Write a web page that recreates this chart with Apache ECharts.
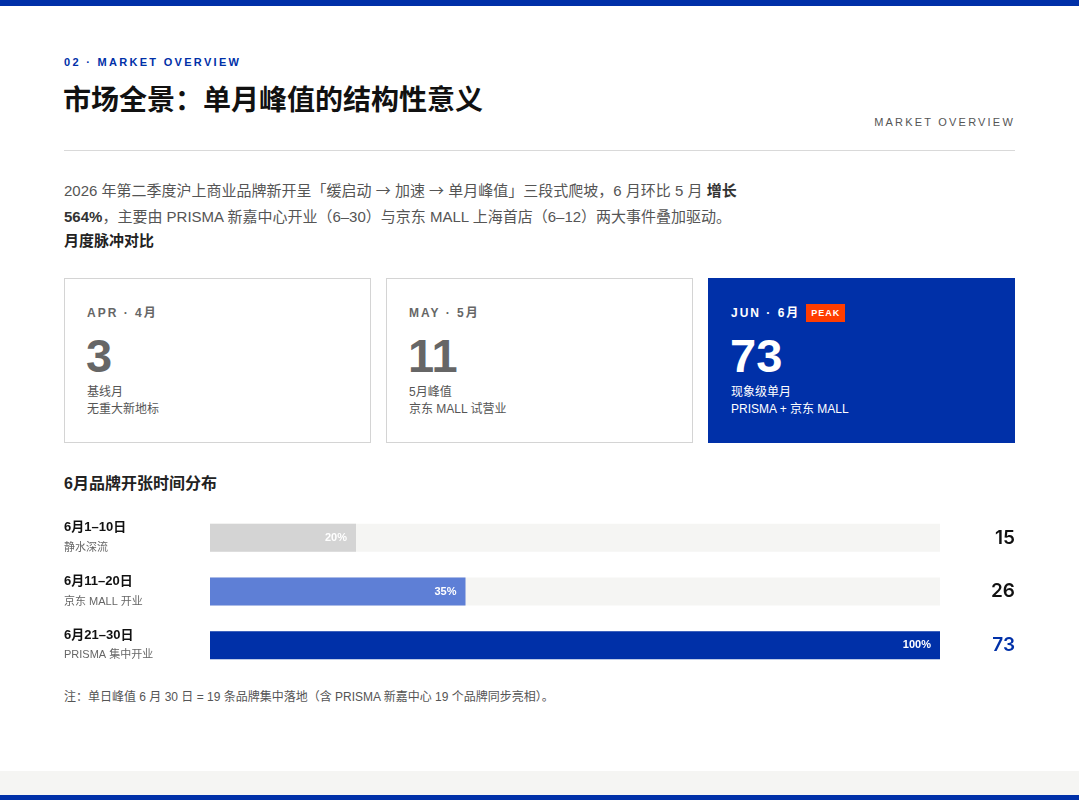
<!DOCTYPE html>
<html><head><meta charset="utf-8">
<script src="https://cdn.jsdelivr.net/npm/echarts@6/dist/echarts.min.js"></script>
<style>
*{margin:0;padding:0;box-sizing:border-box}
html,body{width:1079px;height:800px;background:#fff;overflow:hidden;font-family:"Liberation Sans","Noto Sans CJK SC",sans-serif;color:#222}
.abs{position:absolute}
#topbar{left:0;top:0;width:1079px;height:6px;background:#0030A8}
#eyebrow{left:64px;top:56px;font-size:11px;letter-spacing:2.3px;color:#0030A8;font-weight:bold}
#title{left:63px;top:78px;font-size:28px;font-weight:bold;color:#111;font-family:"Noto Sans CJK SC",sans-serif}
#sub{right:64px;top:116px;font-size:11px;letter-spacing:2.2px;color:#555}
#rule{left:64px;top:150px;width:951px;height:1px;background:#d9d9d9}
#para{left:64px;top:177px;width:700px;font-size:15px;line-height:26px;color:#555}
#para b{color:#333}
.arr{font-family:"Noto Sans CJK SC",sans-serif}
#pulse{left:64px;top:229px;font-size:15px;font-weight:bold;color:#222}
.card{position:absolute;top:278px;width:307px;height:165px;border:1px solid #d4d4d4;background:#fff;padding:0 22px}
.card .lab{position:absolute;left:22px;top:25px;font-size:12px;font-weight:bold;letter-spacing:2px;color:#666;line-height:18px;white-space:nowrap}
.card .num{position:absolute;left:21px;top:49px;font-size:47px;font-weight:bold;color:#666;line-height:56px}
.card .desc{position:absolute;left:22px;top:105px;font-size:12px;line-height:17px;color:#555}
.card.peak{background:#0030A8;border-color:#0030A8}
.card.peak .lab,.card.peak .num,.card.peak .desc{color:#fff}
.badge{display:inline-block;background:#FF3D00;color:#fff;font-size:9px;letter-spacing:1px;padding:0 5px;line-height:18px;margin-left:6px;vertical-align:top}
#dist{left:64px;top:470px;font-size:16px;font-weight:bold;color:#222}
#chart{left:0;top:500px;width:1079px;height:180px}
#note{left:64px;top:687px;font-size:12px;color:#555}
#band{left:0;top:771px;width:1079px;height:24px;background:#f5f5f3}
#botbar{left:0;top:795px;width:1079px;height:5px;background:#0030A8}
</style></head>
<body>
<div id="topbar" class="abs"></div>
<div id="eyebrow" class="abs">02 · MARKET OVERVIEW</div>
<div id="title" class="abs">市场全景：单月峰值的结构性意义</div>
<div id="sub" class="abs">MARKET OVERVIEW</div>
<div id="rule" class="abs"></div>
<div id="para" class="abs">2026 年第二季度沪上商业品牌新开呈「缓启动 <span class="arr">→</span> 加速 <span class="arr">→</span> 单月峰值」三段式爬坡，6 月环比 5 月 <b>增长 564%</b>，主要由 PRISMA 新嘉中心开业（6–30）与京东 MALL 上海首店（6–12）两大事件叠加驱动。</div>
<div id="pulse" class="abs">月度脉冲对比</div>
<div id="cards"></div>
<div id="dist" class="abs">6月品牌开张时间分布</div>
<div id="chart" class="abs"></div>
<div id="note" class="abs">注：单日峰值 6 月 30 日 = 19 条品牌集中落地（含 PRISMA 新嘉中心 19 个品牌同步亮相）。</div>
<div id="band" class="abs"></div>
<div id="botbar" class="abs"></div>
<script>
// Monthly cards
var monthLabels = ['APR · 4月', 'MAY · 5月', 'JUN · 6月'];
var monthValues = [3, 11, 73];
var monthNotes = [['基线月', '无重大新地标'], ['5月峰值', '京东 MALL 试营业'], ['现象级单月', 'PRISMA + 京东 MALL']];

// June distribution
var periods = ['6月1–10日', '6月11–20日', '6月21–30日'];
var periodNotes = ['静水深流', '京东 MALL 开业', 'PRISMA 集中开业'];
var periodCounts = [15, 26, 73];
var periodPct = [20, 35, 100];
var barColors = ['#d4d4d4', '#5e7fd6', '#0030A8'];

var cardsEl = document.getElementById('cards');
var lefts = [64, 386, 708];
monthValues.forEach(function (v, i) {
  var c = document.createElement('div');
  c.className = 'card' + (i === 2 ? ' peak' : '');
  c.style.left = lefts[i] + 'px';
  c.innerHTML = '<div class="lab">' + monthLabels[i] + (i === 2 ? '<span class="badge">PEAK</span>' : '') + '</div>' +
    '<div class="num">' + v + '</div>' +
    '<div class="desc">' + monthNotes[i].join('<br>') + '</div>';
  cardsEl.appendChild(c);
});

var chart = echarts.init(document.getElementById('chart'));
var ff = '"Liberation Sans","Noto Sans CJK SC",sans-serif';
chart.setOption({
  animation: false,
  grid: { left: 210, right: 139, top: 11, height: 161 },
  xAxis: { type: 'value', min: 0, max: 100, show: false },
  yAxis: [{
    type: 'category', inverse: true, data: periods,
    axisLine: { show: false }, axisTick: { show: false },
    axisLabel: {
      align: 'left', margin: 146,
      formatter: function (v, i) { return '{a|' + v + '}\n{b|' + periodNotes[i] + '}'; },
      rich: {
        a: { fontSize: 13, fontWeight: 'bold', color: '#111', lineHeight: 20, fontFamily: ff },
        b: { fontSize: 11, color: '#666', lineHeight: 20, fontFamily: ff }
      }
    }
  }, {
    type: 'category', inverse: true, position: 'right', data: periodCounts.map(String),
    axisLine: { show: false }, axisTick: { show: false },
    axisLabel: {
      align: 'right', margin: 75,
      formatter: function (v, i) { return (i === 2 ? '{h|' : '{n|') + v + '}'; },
      rich: {
        n: { fontSize: 19, color: '#111', fontWeight: 600, fontFamily: 'Inter,' + ff },
        h: { fontSize: 19, color: '#0030A8', fontWeight: 600, fontFamily: 'Inter,' + ff }
      }
    }
  }],
  series: [{
    type: 'bar', barWidth: 28,
    showBackground: true, backgroundStyle: { color: '#f5f5f3' },
    data: periodPct.map(function (p, i) { return { value: p, itemStyle: { color: barColors[i] } }; }),
    label: {
      show: true, position: 'insideRight', distance: 9,
      formatter: '{c}%', color: '#fff', fontSize: 11, fontWeight: 'bold', fontFamily: ff
    }
  }]
});
</script>
</body></html>
